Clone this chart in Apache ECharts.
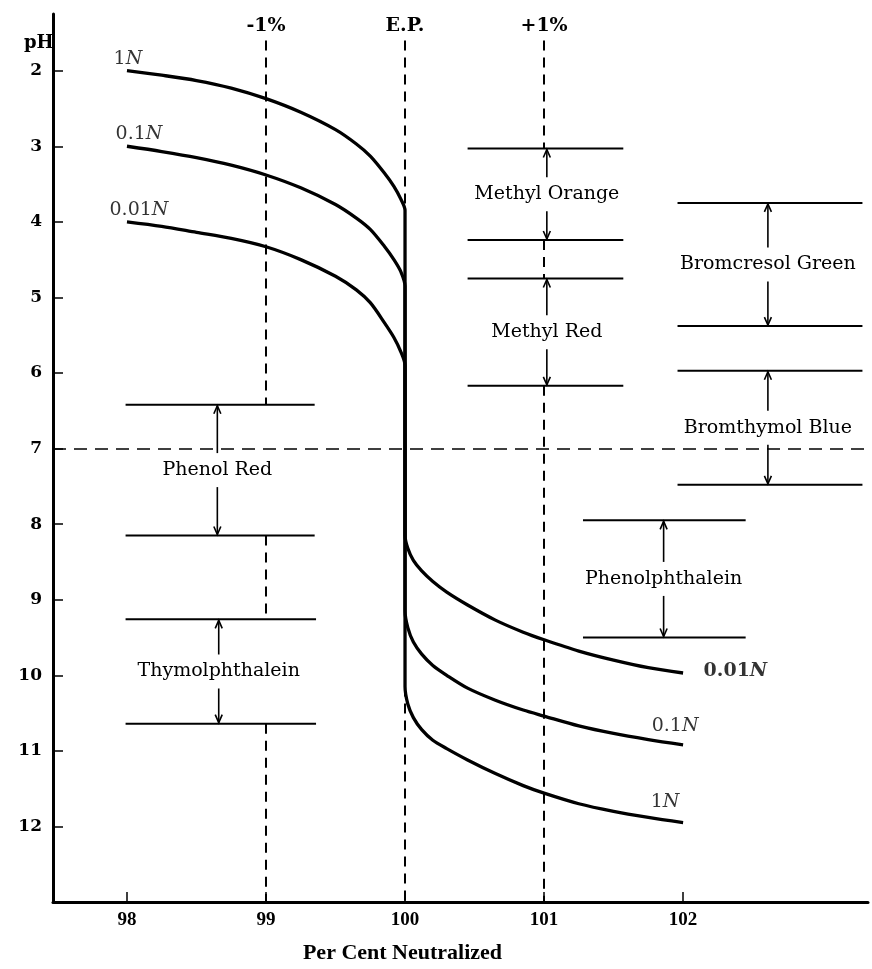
<!DOCTYPE html>
<html><head><meta charset="utf-8">
<script src="https://cdn.jsdelivr.net/npm/echarts@6/dist/echarts.min.js"></script>
<style>html,body{margin:0;padding:0;background:#fff}#c{width:872px;height:969px}</style>
</head><body><div id="c"></div>
<script>
// ---- axis ticks ----
const xTicks = [98, 99, 100, 101, 102];
const yTicks = [2, 3, 4, 5, 6, 7, 8, 9, 10, 11, 12];

// ---- titration curves (per cent neutralized -> pH) ----
const upperX = [98, 98.25, 98.5, 98.75, 99, 99.25, 99.5, 99.65, 99.75, 99.85, 99.92, 99.97, 100];
const lowerX = [100, 100.02, 100.06, 100.12, 100.2, 100.3, 100.45, 100.65, 100.85, 101, 101.25, 101.5, 101.75, 102];

const pH1N_upper   = [2.0, 2.06, 2.13, 2.23, 2.37, 2.55, 2.78, 2.97, 3.13, 3.35, 3.53, 3.7, 3.85];
const pH1N_lower   = [10.15, 10.38, 10.56, 10.72, 10.86, 10.97, 11.12, 11.3, 11.46, 11.56, 11.7, 11.8, 11.88, 11.95];
const pH01N_upper  = [3.0, 3.07, 3.15, 3.25, 3.38, 3.55, 3.77, 3.95, 4.1, 4.32, 4.5, 4.66, 4.85];
const pH01N_lower  = [9.15, 9.37, 9.56, 9.72, 9.87, 10.0, 10.17, 10.33, 10.46, 10.54, 10.67, 10.77, 10.85, 10.92];
const pH001N_upper = [4.0, 4.06, 4.14, 4.22, 4.33, 4.5, 4.72, 4.9, 5.07, 5.33, 5.53, 5.72, 5.9];
const pH001N_lower = [8.15, 8.32, 8.48, 8.62, 8.76, 8.9, 9.07, 9.27, 9.43, 9.53, 9.68, 9.8, 9.9, 9.97];

const curveNames = ['1N', '0.1N', '0.01N'];

// ---- indicators: transition ranges ----
const indicatorNames = ['Methyl Orange', 'Methyl Red', 'Bromcresol Green', 'Bromthymol Blue', 'Phenol Red', 'Phenolphthalein', 'Thymolphthalein'];
const indicatorLowPH  = [3.03, 4.75, 3.75, 5.97, 6.42, 7.95, 9.26];
const indicatorHighPH = [4.24, 6.17, 5.38, 7.48, 8.15, 9.5, 10.64];
// placement of each indicator bracket along the x axis (start, end, arrow)
const indicatorXStart = [100.45, 100.45, 101.96, 101.96, 97.99, 101.28, 97.99];
const indicatorXEnd   = [101.57, 101.57, 103.29, 103.29, 99.35, 102.45, 99.36];
const indicatorXArrow = [101.02, 101.02, 102.61, 102.61, 98.65, 101.86, 98.66];

// ---- reference lines ----
const refX = [99, 100, 101];
const refLabels = ['-1%', 'E.P.', '+1%'];
const refSegments = [
  [[1.6, 6.42], [8.15, 9.26], [10.64, 13]],
  [[1.6, 13]],
  [[1.6, 3.03], [4.24, 4.75], [6.17, 13]]
];
const neutralPH = 7;

// ---- build ----
function curve(up, low) {
  return upperX.map((x, i) => [x, up[i]]).concat(lowerX.map((x, i) => [x, low[i]]));
}
const curves = [curve(pH1N_upper, pH1N_lower), curve(pH01N_upper, pH01N_lower), curve(pH001N_upper, pH001N_lower)];

const SERIF = 'DejaVu Serif';
const curveSeries = curves.map((d, i) => ({
  name: curveNames[i], type: 'line', data: d, symbol: 'none', smooth: 0.3,
  lineStyle: { color: '#000', width: 3.3 }, z: 5, silent: true
}));

function nLabel(t) { const n = t.slice(0, -1); return '{a|' + n + '}{b|N}'; }
const rich = {
  a: { fontFamily: SERIF, fontSize: 19, color: '#000' },
  b: { fontFamily: SERIF, fontSize: 19, fontStyle: 'italic', color: '#000' },
  ab: { fontFamily: SERIF, fontSize: 19, fontWeight: 'bold', color: '#000' },
  bb: { fontFamily: SERIF, fontSize: 19, fontWeight: 'bold', fontStyle: 'italic', color: '#000' }
};
const leftOffsets = [[1, 0], [12, 0], [12, 0]];
const rightCfg = [
  { position: 'top', offset: [-18, 0], distance: 11 },
  { position: 'top', offset: [-8, 0], distance: 9 },
  { position: 'right', offset: [0, -2], distance: 20, bold: true }
];
const labelData = [];
curves.forEach((d, i) => {
  labelData.push({ value: d[0], label: { show: true, position: 'top', distance: 2, offset: leftOffsets[i], formatter: nLabel(curveNames[i]), rich } });
  const r = rightCfg[i];
  const n = curveNames[i].slice(0, -1);
  labelData.push({ value: d[d.length - 1], label: { show: true, position: r.position, distance: r.distance, offset: r.offset,
    formatter: r.bold ? '{ab|' + n + '}{bb|N}' : nLabel(curveNames[i]), rich } });
});

const indicatorData = indicatorNames.map((n, i) => [indicatorLowPH[i], indicatorHighPH[i], indicatorXStart[i], indicatorXEnd[i], indicatorXArrow[i]]);

function renderIndicator(params, api) {
  const low = api.value(0), high = api.value(1), xs = api.value(2), xe = api.value(3), xm = api.value(4);
  const name = indicatorNames[params.dataIndex];
  const a = api.coord([xs, low]), b = api.coord([xe, low]);
  const c = api.coord([xs, high]), d = api.coord([xe, high]);
  const m = api.coord([xm, (low + high) / 2]);
  const top = api.coord([xm, low])[1], bot = api.coord([xm, high])[1];
  const ax = m[0], gap = 17;
  const ls = { stroke: '#000', lineWidth: 2 };
  const as = { stroke: '#000', lineWidth: 1.6, fill: null };
  return {
    type: 'group',
    children: [
      { type: 'line', shape: { x1: a[0], y1: a[1], x2: b[0], y2: b[1] }, style: ls },
      { type: 'line', shape: { x1: c[0], y1: c[1], x2: d[0], y2: d[1] }, style: ls },
      { type: 'line', shape: { x1: ax, y1: m[1] - gap, x2: ax, y2: top + 1 }, style: as },
      { type: 'polyline', shape: { points: [[ax - 3.5, top + 9], [ax, top + 1], [ax + 3.5, top + 9]] }, style: as },
      { type: 'line', shape: { x1: ax, y1: m[1] + gap, x2: ax, y2: bot - 1 }, style: as },
      { type: 'polyline', shape: { points: [[ax - 3.5, bot - 9], [ax, bot - 1], [ax + 3.5, bot - 9]] }, style: as },
      { type: 'text', style: { text: name, x: ax, y: m[1], align: 'center', verticalAlign: 'middle',
        fontSize: 19, fontFamily: SERIF, fill: '#000' } }
    ]
  };
}

const markLineData = [];
refX.forEach((x, i) => {
  refSegments[i].forEach((seg, j) => {
    const first = { coord: [x, seg[0]] };
    if (j === 0) first.label = { show: true, position: 'start', distance: 5, formatter: refLabels[i],
      fontFamily: SERIF, fontWeight: 'bold', fontSize: 19, color: '#000' };
    markLineData.push([first, { coord: [x, seg[1]] }]);
  });
});
markLineData.push({ yAxis: neutralPH, lineStyle: { type: [13, 8], width: 1.5 }, label: { show: false } });

const option = {
  animation: false,
  backgroundColor: '#fff',
  title: { text: 'pH', left: 19, top: 29, textStyle: { fontFamily: SERIF, fontWeight: 'bold', fontSize: 18, color: '#000' } },
  grid: { left: 53, right: 4, top: 14, bottom: 61 },
  xAxis: {
    type: 'value', min: 97.468, max: 103.33,
    axisLine: { show: true, lineStyle: { color: '#000', width: 3 } },
    axisTick: { show: true, inside: true, length: 10, customValues: xTicks, lineStyle: { color: '#000', width: 1.5 } },
    axisLabel: { customValues: xTicks, fontFamily: 'Liberation Serif', fontWeight: 'bold', fontSize: 19, color: '#000', margin: 9 },
    splitLine: { show: false },
    name: 'Per Cent Neutralized', nameLocation: 'middle', nameGap: 40,
    nameTextStyle: { fontFamily: 'Liberation Serif', fontWeight: 'bold', fontSize: 22, color: '#000', padding: [0, 116, 0, 0] }
  },
  yAxis: {
    type: 'value', inverse: true, min: 1.25, max: 13,
    axisLine: { show: true, lineStyle: { color: '#000', width: 3 } },
    axisTick: { show: true, inside: true, length: 10, customValues: yTicks, lineStyle: { color: '#000', width: 1.5 } },
    axisLabel: { customValues: yTicks, fontFamily: SERIF, fontWeight: 'bold', fontSize: 17, color: '#000', margin: 11 },
    splitLine: { show: false }
  },
  series: [
    {
      type: 'line', data: [], silent: true,
      markLine: { silent: true, symbol: ['none', 'none'], animation: false,
        lineStyle: { color: '#000', type: [10, 7], width: 2 }, label: { show: false }, data: markLineData }
    },
    ...curveSeries,
    {
      type: 'custom', renderItem: renderIndicator, data: indicatorData, silent: true, clip: false, z: 4,
      encode: { x: [2, 3, 4], y: [0, 1] }
    },
    {
      type: 'scatter', data: labelData, symbolSize: 1, itemStyle: { color: 'rgba(0,0,0,0)' }, silent: true, z: 6
    }
  ]
};
echarts.init(document.getElementById('c')).setOption(option);
</script>
</body></html>
